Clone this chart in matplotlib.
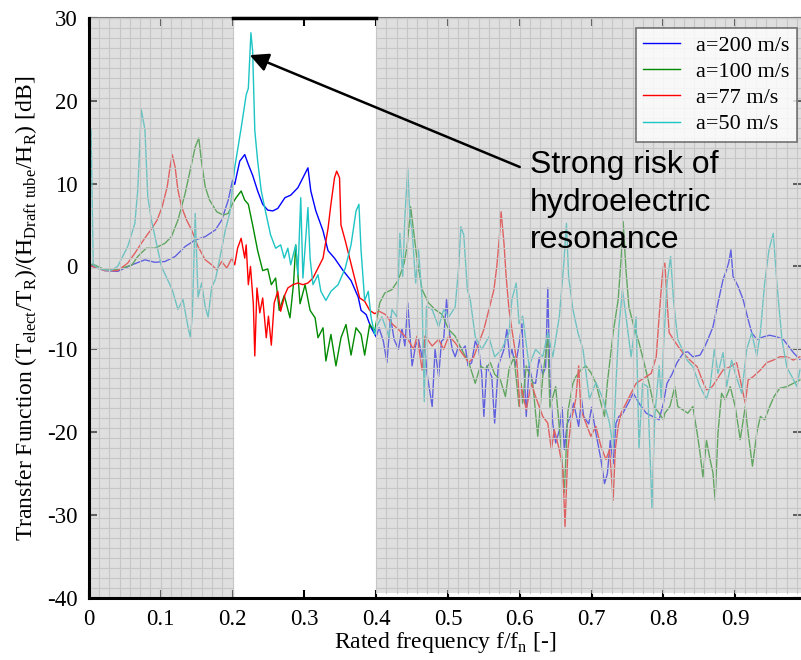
import numpy as np
import matplotlib
matplotlib.use('Agg')
import matplotlib.pyplot as plt
from matplotlib.patches import Rectangle

# Series (x = f/fn, y = dB)
x_200 = [0, 0.005, 0.022, 0.04, 0.06, 0.078, 0.092, 0.106, 0.12, 0.134, 0.148, 0.162, 0.176, 0.185, 0.194,
         0.2, 0.203, 0.21, 0.217, 0.222, 0.228, 0.235, 0.242, 0.249, 0.256, 0.263, 0.273, 0.281, 0.291, 0.298,
         0.305, 0.309, 0.316, 0.326, 0.333, 0.342, 0.354, 0.365, 0.375, 0.379, 0.386, 0.393, 0.398,
         0.4, 0.404, 0.41, 0.415, 0.42, 0.425, 0.431, 0.436, 0.44, 0.444, 0.45, 0.455, 0.459, 0.464, 0.467,
         0.471, 0.478, 0.482, 0.487, 0.491, 0.494, 0.498, 0.502, 0.506, 0.51, 0.515, 0.52, 0.524, 0.528,
         0.533, 0.538, 0.543, 0.547, 0.55, 0.554, 0.561, 0.565, 0.57, 0.574, 0.578, 0.582, 0.586, 0.589,
         0.594, 0.599, 0.603, 0.609, 0.613, 0.618, 0.622, 0.627, 0.632, 0.636, 0.639, 0.642, 0.646, 0.65,
         0.655, 0.659, 0.662, 0.666, 0.671, 0.675, 0.682, 0.686, 0.689, 0.696, 0.7, 0.706, 0.713, 0.718,
         0.722, 0.726, 0.73, 0.734, 0.738, 0.743, 0.751, 0.758, 0.766, 0.776, 0.785, 0.794, 0.8, 0.805,
         0.812, 0.819, 0.828, 0.834, 0.841, 0.851, 0.858, 0.862, 0.869, 0.874, 0.879, 0.883, 0.888, 0.891,
         0.894, 0.897, 0.904, 0.911, 0.918, 0.923, 0.93, 0.939, 0.948, 0.958, 0.967, 0.974, 0.981, 0.99]
y_200 = [0.5, 0, -0.5, -0.6, 0.2, 0.8, 0.5, 0.6, 1.2, 2.4, 3.2, 3.6, 4.4, 5.6, 8.0,
         10.4, 9.9, 12.7, 13.5, 12.3, 11.0, 9.1, 7.5, 6.8, 6.7, 7.0, 8.3, 8.6, 9.5, 10.7,
         11.9, 9.1, 6.7, 4.3, 1.9, 1.0, -0.5, -1.7, -3.7, -5.3, -5.8, -7.4, -8.2,
         -8.5, -7.4, -9.0, -11.6, -6.1, -8.8, -10.0, -7.5, -9.6, -4.4, -12.0, -9.5, -8.8, -11.0, -9.0,
         -13.0, -16.9, -10.0, -13.3, -9.0, -8.8, -4.0, -8.0, -10.0, -10.9, -9.5, -10.0, -9.6, -12.0,
         -11.6, -9.0, -10.0, -13.0, -18.1, -12.0, -13.3, -18.9, -12.0, -11.0, -10.0, -7.6, -11.0, -10.0,
         -12.0, -9.4, -6.9, -18.1, -12.0, -14.0, -14.1, -11.0, -13.0, -12.2, -2.6, -14.0, -19.0, -21.3,
         -19.8, -17.0, -22.1, -19.0, -18.0, -16.5, -19.3, -16.0, -18.1, -19.0, -17.0, -20.1, -23.3, -26.2,
         -25.0, -21.0, -23.8, -18.9, -18.1, -17.8, -16.5, -15.3, -16.5, -17.7, -18.1, -18.5, -16.5, -14.1,
         -13.0, -11.6, -10.4, -10.3, -10.9, -10.7, -9.6, -8.8, -7.3, -5.2, -3.2, -1.6, -0.4, 0.5,
         2.0, -1.2, -2.4, -4.0, -6.4, -8.0, -8.8, -8.5, -8.3, -8.5, -8.8, -9.6, -10.4, -11.2]

x_100 = [0, 0.005, 0.022, 0.04, 0.06, 0.068, 0.075, 0.08, 0.092, 0.106, 0.115, 0.124, 0.134, 0.141, 0.148,
         0.153, 0.157, 0.162, 0.168, 0.178, 0.187, 0.194, 0.2, 0.205, 0.212, 0.217, 0.222, 0.228, 0.235,
         0.242, 0.249, 0.254, 0.26, 0.265, 0.272, 0.28, 0.285, 0.288, 0.294, 0.301, 0.308, 0.315, 0.319,
         0.326, 0.33, 0.337, 0.344, 0.351, 0.358, 0.365, 0.372, 0.379, 0.384, 0.391, 0.398,
         0.405, 0.412, 0.422, 0.431, 0.439, 0.443, 0.447, 0.448, 0.452, 0.457, 0.464, 0.473, 0.482, 0.492,
         0.501, 0.51, 0.519, 0.529, 0.538, 0.545, 0.552, 0.559, 0.565, 0.573, 0.58, 0.585, 0.592, 0.599,
         0.602, 0.604, 0.609, 0.618, 0.625, 0.632, 0.639, 0.642, 0.65, 0.657, 0.662, 0.667, 0.674, 0.678,
         0.685, 0.692, 0.699, 0.706, 0.713, 0.718, 0.722, 0.73, 0.737, 0.741, 0.744, 0.748, 0.752, 0.759,
         0.766, 0.773, 0.78, 0.787, 0.794, 0.8, 0.802, 0.809, 0.816, 0.82, 0.827, 0.834, 0.841, 0.847,
         0.851, 0.855, 0.86, 0.865, 0.869, 0.872, 0.876, 0.881, 0.886, 0.893, 0.9, 0.907, 0.914, 0.918,
         0.924, 0.93, 0.935, 0.941, 0.948, 0.954, 0.962, 0.972, 0.981, 0.99]
y_100 = [0, 0.3, -0.4, -0.4, 0.2, 1.2, 1.8, 2.2, 2.2, 2.8, 3.6, 5.6, 8.8, 11.6, 14.4,
         15.5, 12.5, 9.6, 8.0, 6.6, 6.2, 6.4, 7.6, 8.3, 9.1, 8.0, 7.5, 5.0, 1.9,
         -0.5, -0.3, -2.2, -1.4, -5.3, -3.5, -6.2, -2.0, 2.6, -4.5, -2.2, -5.3, -6.2, -8.6,
         -7.4, -11.4, -8.2, -12.0, -8.6, -7.0, -10.7, -7.4, -8.2, -10.7, -7.0, -7.8,
         -4.4, -3.2, -2.8, -1.6, 0.4, 2.4, 6.0, 7.2, 4.4, 0.8, -2.8, -4.4, -5.2, -5.8,
         -7.6, -8.4, -10.0, -11.6, -14.1, -12.0, -12.4, -11.6, -13.0, -13.7, -15.7, -12.4, -10.9, -16.9,
         -14.1, -16.5, -12.0, -14.0, -20.5, -13.3, -8.5, -17.0, -14.5, -21.3, -27.3, -17.5, -14.1, -13.3,
         -12.5, -12.0, -12.8, -14.1, -16.5, -18.1, -14.0, -8.0, -4.0, 0.8, 5.4, -0.6, -4.9, -7.3,
         -9.2, -11.6, -14.1, -16.9, -17.7, -18.5, -17.7, -16.9, -14.5, -16.9, -17.3, -17.7, -16.9, -20.1,
         -22.5, -25.4, -21.0, -23.3, -24.9, -28.2, -20.1, -15.3, -16.1, -14.5, -16.9, -20.9, -16.9, -20.1,
         -24.1, -20.1, -18.1, -18.5, -16.9, -15.7, -14.7, -14.5, -14.1, -13.7]

x_77 = [0, 0.005, 0.022, 0.04, 0.054, 0.064, 0.073, 0.081, 0.087, 0.095, 0.102, 0.109, 0.113, 0.116, 0.12,
        0.124, 0.129, 0.136, 0.143, 0.152, 0.162, 0.171, 0.178, 0.185, 0.192, 0.199, 0.203, 0.207, 0.212,
        0.217, 0.219, 0.222, 0.225, 0.229, 0.231, 0.234, 0.238, 0.242, 0.247, 0.25, 0.254, 0.258, 0.263,
        0.267, 0.273, 0.277, 0.284, 0.291, 0.298, 0.305, 0.312, 0.319, 0.326, 0.333, 0.337, 0.342, 0.345,
        0.349, 0.351, 0.357, 0.363, 0.37, 0.377, 0.384, 0.391, 0.398,
        0.404, 0.413, 0.422, 0.431, 0.44, 0.447, 0.452, 0.457, 0.464, 0.468, 0.478, 0.487, 0.494, 0.501,
        0.51, 0.519, 0.529, 0.536, 0.543, 0.55, 0.557, 0.564, 0.568, 0.572, 0.574, 0.578, 0.581, 0.585,
        0.589, 0.596, 0.6, 0.602, 0.609, 0.616, 0.622, 0.632, 0.639, 0.644, 0.648, 0.655, 0.66, 0.663,
        0.667, 0.671, 0.678, 0.682, 0.685, 0.692, 0.699, 0.706, 0.713, 0.72, 0.725, 0.73, 0.733, 0.737,
        0.741, 0.748, 0.755, 0.762, 0.769, 0.776, 0.783, 0.79, 0.794, 0.798, 0.8, 0.802, 0.805, 0.808,
        0.814, 0.82, 0.827, 0.837, 0.847, 0.854, 0.86, 0.868, 0.874, 0.883, 0.893, 0.902, 0.909, 0.914,
        0.918, 0.925, 0.935, 0.944, 0.953, 0.962, 0.972, 0.981, 0.99]
y_77 = [0.2, 0, -0.5, -0.5, 0.4, 1.6, 2.8, 3.8, 4.5, 5.6, 7.2, 9.6, 12.0, 13.5, 12.0,
        9.2, 7.2, 5.6, 4.4, 2.4, 0.8, 0.2, -0.4, 0.6, -0.2, 1.0, 0.2, 2.2, 3.4,
        1.0, 2.6, -2.2, 0, -4.6, -10.8, -2.6, -5.6, -3.8, -8.6, -6.0, -9.5, -4.4, -3.0,
        -5.4, -3.4, -2.6, -2.2, -2.0, -2.2, -2.0, -1.4, -0.2, 1.0, 4.6, 7.5, 10.7, 11.5,
        10.7, 5.0, 3.1, 1.0, -1.4, -3.8, -4.2, -5.3, -5.7,
        -5.4, -5.8, -6.9, -7.6, -8.4, -9.2, -10.0, -8.4, -12.5, -8.4, -9.6, -8.8, -10.0, -8.4,
        -9.2, -10.4, -11.6, -10.9, -9.2, -7.6, -5.2, -2.8, 0, 4.0, 6.6, 2.8, -1.2, -5.2,
        -7.6, -11.6, -16.9, -14.5, -17.3, -14.1, -15.7, -18.1, -18.9, -22.1, -19.7, -22.1, -24.5, -31.4,
        -22.1, -18.9, -16.0, -12.0, -17.3, -18.9, -20.5, -19.3, -21.7, -23.3, -22.1, -28.2, -22.1, -19.3,
        -17.7, -16.5, -15.3, -14.1, -13.7, -13.3, -12.9, -10.9, -6.1, -1.6, 0, 0.4, -4.0, -8.0,
        -8.8, -9.6, -10.4, -11.3, -12.1, -13.7, -14.9, -14.5, -13.7, -12.5, -12.1, -11.6, -14.5, -16.5,
        -13.7, -13.3, -12.5, -11.6, -11.3, -10.9, -10.9, -11.3, -10.9]

x_50 = [0, 0.003, 0.006, 0.015, 0.03, 0.04, 0.054, 0.064, 0.068, 0.073, 0.076, 0.078, 0.08, 0.082, 0.087,
        0.101, 0.116, 0.124, 0.131, 0.138, 0.141, 0.144, 0.148, 0.152, 0.157, 0.162, 0.166, 0.171, 0.176,
        0.18, 0.19, 0.196, 0.2, 0.203, 0.212, 0.219, 0.222, 0.2256, 0.228, 0.231, 0.235, 0.24, 0.247,
        0.253, 0.26, 0.267, 0.272, 0.277, 0.281, 0.288, 0.291, 0.295, 0.298, 0.305, 0.308, 0.312, 0.319,
        0.323, 0.33, 0.337, 0.347, 0.357, 0.365, 0.372, 0.376, 0.379, 0.384, 0.389, 0.393, 0.398,
        0.4, 0.408, 0.418, 0.422, 0.429, 0.433, 0.437, 0.44, 0.444, 0.447, 0.45, 0.455, 0.459, 0.464,
        0.467, 0.47, 0.478, 0.487, 0.494, 0.501, 0.51, 0.515, 0.518, 0.522, 0.527, 0.531, 0.538, 0.547,
        0.557, 0.565, 0.575, 0.585, 0.589, 0.595, 0.599, 0.604, 0.613, 0.622, 0.632, 0.639, 0.646, 0.655,
        0.661, 0.665, 0.668, 0.674, 0.681, 0.688, 0.697, 0.706, 0.716, 0.725, 0.73, 0.734, 0.738, 0.743,
        0.748, 0.755, 0.762, 0.766, 0.771, 0.778, 0.784, 0.788, 0.794, 0.797, 0.8, 0.805, 0.81, 0.814,
        0.82, 0.833, 0.841, 0.851, 0.86, 0.865, 0.871, 0.876, 0.883, 0.888, 0.895, 0.9, 0.909, 0.916,
        0.923, 0.93, 0.935, 0.941, 0.947, 0.953, 0.958, 0.965, 0.972, 0.979, 0.986, 0.99]
y_50 = [16.1, 16.5, 0.2, -0.3, -0.5, 0, 2.4, 5.2, 9.2, 18.9, 17.5, 16.5, 12.5, 8.4, 5.6,
        0, -2.8, -5.2, -4.0, -7.3, -8.5, -6.0, 6.4, -3.7, -2.0, -4.9, -6.1, -2.5, -1.6,
        0, 4.4, 6.4, 9.6, 11.9, 16.7, 20.7, 21.5, 28.2, 26.0, 16.4, 12.7, 9.1, 6.2,
        3.8, 2.2, 2.6, 1.0, 2.2, 0.2, 2.6, -1.0, 8.3, -1.4, 7.1, 1.0, -2.2, -1.0,
        -3.0, -4.1, -3.0, -2.2, -0.2, 2.6, 6.7, 7.5, 1.9, -4.1, -3.0, -6.2, -8.2,
        -7.3, -6.1, -8.5, -5.2, -6.1, 4.0, -1.2, 6.0, 11.9, 6.0, 4.4, -2.0, 2.0, -4.0,
        -16.3, -4.8, -5.2, -7.3, -5.2, -6.1, -4.9, 0, 4.8, 3.8, -2.8, -4.0, -8.5, -10.0,
        -8.5, -10.9, -10.0, -8.0, -4.0, -2.0, -6.9, -6.0, -12.0, -10.0, -10.9, -8.0, -10.9, -6.1,
        0, 5.2, -1.2, -5.2, -8.0, -10.0, -16.0, -14.0, -16.0, -18.9, -22.0, -14.0, -7.3, -2.8,
        -6.1, -10.9, -6.1, -22.0, -14.1, -14.5, -29.1, -18.1, -12.0, -16.0, -10.0, -2.0, 1.2, -4.0,
        -8.8, -11.3, -12.1, -14.5, -16.0, -14.5, -10.0, -12.9, -10.4, -14.5, -11.3, -12.9, -15.3, -10.0,
        -8.0, -10.8, -8.0, -2.0, 2.0, 4.0, -2.0, -8.8, -12.2, -13.3, -14.5, -12.5]

series_labels = ['a=200 m/s', 'a=100 m/s', 'a=77 m/s', 'a=50 m/s']
series_colors = ['#0000ff', '#008a00', '#ff0000', '#1cc4c4']

x_ticks = [0, 0.1, 0.2, 0.3, 0.4, 0.5, 0.6, 0.7, 0.8, 0.9]
x_tick_labels = ['0', '0.1', '0.2', '0.3', '0.4', '0.5', '0.6', '0.7', '0.8', '0.9']
y_ticks = [-40, -30, -20, -10, 0, 10, 20, 30]

# white (unshaded) window
band_lo, band_hi = 0.2, 0.4

serif = 'Liberation Serif'
plt.rcParams['axes.unicode_minus'] = False

fig = plt.figure(figsize=(8.01, 6.60), dpi=100)
ax = fig.add_axes([0.111, 0.094, 0.889, 0.879])
ax.set_facecolor('white')

all_x = [x_200, x_100, x_77, x_50]
all_y = [y_200, y_100, y_77, y_50]
for xs, ys, lab, col in zip(all_x, all_y, series_labels, series_colors):
    ax.plot(xs, ys, color=col, lw=1.0, label=lab, zorder=2)

xmax = 0.9916
ax.set_xlim(0, xmax)
ax.set_ylim(-40, 30)

# grey veil drawn over the curves outside the 0.2-0.4 window
for x0, x1, y0 in [(0, band_lo, -40), (band_hi, 1.0, -39.4)]:
    ax.add_patch(Rectangle((x0, y0), x1 - x0, 30 - y0, facecolor='#c1c1c1',
                           edgecolor='none', alpha=0.5, zorder=3))
    # fine grid only inside the shaded parts
    for gx in np.arange(x0, x1 + 1e-9, 1 / 70):
        ax.plot([gx, gx], [y0, 30], color='#c6c6c6', lw=0.8, zorder=3.5)
    for gy in np.arange(-40, 30.01, 70 / 58):
        if gy >= y0:
            ax.plot([x0, x1], [gy, gy], color='#c6c6c6', lw=0.8, zorder=3.5)

ax.set_xticks(x_ticks)
ax.set_xticklabels(x_tick_labels)
ax.set_yticks(y_ticks)
ax.tick_params(direction='in', length=6, width=1.5, top=True, right=True,
               labelsize=16.5, pad=8)
for lab in ax.get_xticklabels() + ax.get_yticklabels():
    lab.set_family(serif)

for side in ['left', 'bottom']:
    ax.spines[side].set_linewidth(2.2)
    ax.spines[side].set_zorder(5)
ax.spines['right'].set_visible(False)
ax.spines['top'].set_color('#7a7a7a')
ax.spines['top'].set_linewidth(1.5)
ax.plot([band_lo, band_hi], [30, 30], color='black', lw=2.5, zorder=6, clip_on=False)

ax.set_xlabel(r'Rated frequency f/f$_{\mathregular{n}}$ [-]', family=serif, fontsize=17)
ax.xaxis.set_label_coords(0.5, -0.055)
ax.set_ylabel(r'Transfer Function (T$_{\mathregular{elect}}$/T$_{\mathregular{R}}$)/'
              r'(H$_{\mathregular{Draft\ tube}}$/H$_{\mathregular{R}}$) [dB]',
              family=serif, fontsize=17)
ax.yaxis.set_label_coords(-0.07, 0.5)

leg = ax.legend(loc='upper right', bbox_to_anchor=(0.994, 0.983), frameon=True, fancybox=False,
                prop={'family': serif, 'size': 16}, handlelength=1.65, borderpad=0.35,
                labelspacing=0.25, handletextpad=0.7, borderaxespad=0)
leg.get_frame().set_edgecolor('#555555')
leg.get_frame().set_linewidth(1.2)
leg.set_zorder(10)

# annotation arrow pointing at the 0.225 resonance peak
ax.annotate('', xy=(0.224, 25.5), xytext=(0.600, 12.0),
            arrowprops=dict(arrowstyle='-|>', mutation_scale=28, color='black', lw=1.8,
                            shrinkA=0, shrinkB=0), zorder=8)
ax.text(0.614, 7.7, 'Strong risk of\nhydroelectric\nresonance', family='Liberation Sans',
        fontsize=23, ha='left', va='center', linespacing=1.32, zorder=8)

fig.savefig('out.png', dpi=100)
